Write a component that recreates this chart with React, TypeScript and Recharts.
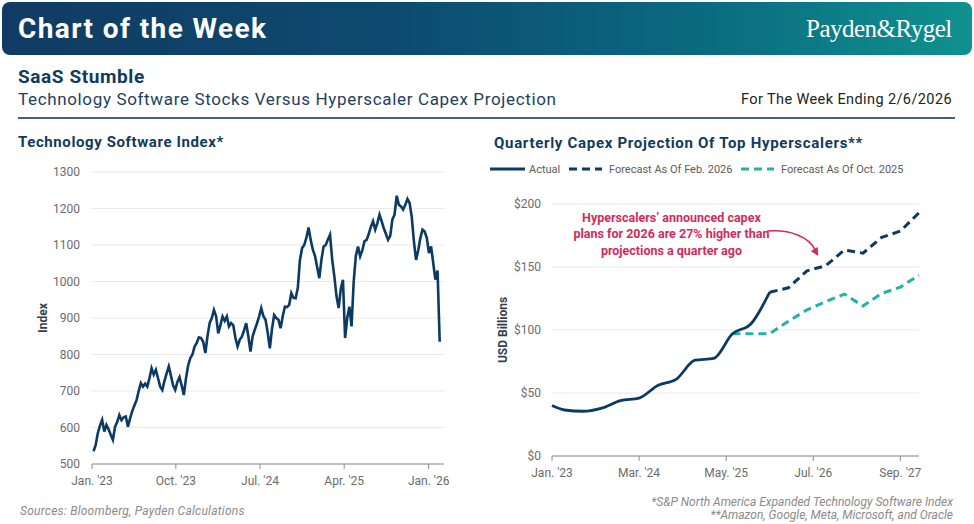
import { LineChart, Line, XAxis, YAxis, CartesianGrid, ReferenceDot } from "recharts"

const NAVY = "#0b3a64"
const TEAL = "#22b2a7"
const ROSE = "#d6295c"
const INK = "#123a5e"
const GRID = "#e9e9e9"
const AXIS = "#8c8c8c"
const TICK = "#6b6b6b"
const FONT = "Roboto, 'Noto Sans', Arial, sans-serif"

// Software index, weekly (Fridays) starting 2023-01-06
const indexStart = "2023-01-06"
const indexValues = [
  535, 552, 585, 605, 621, 589, 607, 595, 580, 566,
  602, 615, 634, 620, 628, 630, 602, 625, 645, 660,
  675, 700, 722, 712, 720, 712, 735, 762, 745, 758,
  735, 712, 703, 728, 748, 767, 742, 715, 703, 725,
  738, 715, 689, 735, 770, 790, 800, 822, 832, 847,
  845, 835, 804, 850, 886, 900, 922, 905, 858, 880,
  904, 892, 904, 877, 886, 880, 845, 822, 840, 849,
  866, 886, 850, 808, 850, 868, 885, 904, 927, 905,
  895, 860, 817, 870, 908, 900, 895, 872, 905, 931,
  930, 936, 968, 955, 954, 982, 1059, 1092, 1100, 1120,
  1148, 1114, 1087, 1070, 1040, 1009, 1060, 1096, 1100, 1115,
  1128, 1060, 1014, 960, 927, 980, 1005, 845, 900, 931,
  877, 1000, 1070, 1096, 1069, 1085, 1110, 1114, 1130, 1150,
  1165, 1142, 1160, 1183, 1165, 1146, 1130, 1114, 1125, 1170,
  1183, 1235, 1210, 1206, 1197, 1210, 1226, 1215, 1177, 1110,
  1059, 1085, 1119, 1142, 1137, 1120, 1078, 1096, 1050, 1005,
  1030, 835,
]
const indexTickDates = ["2023-01-01", "2023-10-01", "2024-07-01", "2025-04-01", "2026-01-01"]
const indexTickLabels = ["Jan. '23", "Oct. '23", "Jul. '24", "Apr. '25", "Jan. '26"]
const indexYTicks = [500, 600, 700, 800, 900, 1000, 1100, 1200, 1300]

// Quarterly capex of the top hyperscalers, USD billions
const capexQuarters = [
  "2023-01", "2023-03", "2023-06", "2023-09", "2023-12",
  "2024-03", "2024-06", "2024-09", "2024-12",
  "2025-03", "2025-06", "2025-09", "2025-12",
  "2026-03", "2026-06", "2026-09", "2026-12",
  "2027-03", "2027-06", "2027-09", "2027-12",
]
const capexActual = [40, 36.5, 35.5, 38, 44, 46, 56, 61, 76, 77.5, 97, 105, 130]
const capexFeb2026 = [130, 133.5, 147, 151, 163.5, 161, 173.5, 178.5, 193] // from 2025-12
const capexOct2025 = [97, 97, 97, 107, 116, 122.5, 128.5, 119, 129, 134, 143.5] // from 2025-06
const capexTickMonths = ["2023-01", "2024-03", "2025-05", "2026-07", "2027-09"]
const capexTickLabels = ["Jan. '23", "Mar. '24", "May. '25", "Jul. '26", "Sep. '27"]
const capexYTicks = [0, 50, 100, 150, 200]

const DAY = 86400000
const dayOf = (iso: string) => (Date.parse(iso) - Date.parse("2023-01-01")) / DAY
const monthOf = (ym: string) => {
  const [y, m] = ym.split("-").map(Number)
  return (y - 2023) * 12 + (m - 1)
}

const indexData = indexValues.map((value, i) => ({ day: dayOf(indexStart) + 7 * i, value }))
const indexTicks = indexTickDates.map(dayOf)

const feb26From = capexQuarters.indexOf("2025-12")
const oct25From = capexQuarters.indexOf("2025-06")
const capexData = capexQuarters.map((q, i) => ({
  month: monthOf(q),
  actual: i < capexActual.length ? capexActual[i] : null,
  feb2026: i >= feb26From ? capexFeb2026[i - feb26From] : null,
  oct2025: i >= oct25From ? capexOct2025[i - oct25From] : null,
}))
const capexTicks = capexTickMonths.map(monthOf)

const legendItems = [
  { label: "Actual", color: NAVY, dash: undefined as string | undefined, x: 490, width: 35, textX: 529 },
  { label: "Forecast As Of Feb. 2026", color: NAVY, dash: "8 5", x: 569, width: 33, textX: 609 },
  { label: "Forecast As Of Oct. 2025", color: TEAL, dash: "8 5", x: 741, width: 33, textX: 781 },
]

const annotationLines = [
  "Hyperscalers\u2019 announced capex",
  "plans for 2026 are 27% higher than",
  "projections a quarter ago",
]

const tickStyle = { fontSize: 12, fill: TICK, fontFamily: FONT }

function abs(left: number, top: number, extra: React.CSSProperties = {}): React.CSSProperties {
  return { position: "absolute", left, top, whiteSpace: "nowrap", lineHeight: 1, ...extra }
}

function AnnotationText({ cx, cy }: { cx?: number; cy?: number }) {
  if (cx == null || cy == null) return null
  return (
    <text x={cx} y={cy} textAnchor="middle" fill={ROSE} fontFamily={FONT} fontWeight={700} fontSize={12.5}>
      {annotationLines.map((line, i) => (
        <tspan key={i} x={cx} dy={i === 0 ? 4.5 : 16.4}>
          {line}
        </tspan>
      ))}
    </text>
  )
}

function AnnotationArrow({ cx, cy }: { cx?: number; cy?: number }) {
  if (cx == null || cy == null) return null
  return (
    <g transform={`translate(${cx},${cy})`}>
      <path d="M -51 -25 C -28 -27 -9 -19 -3 -6" fill="none" stroke={ROSE} strokeWidth={1.6} />
      <polygon points="0,0 -0.5,-9 -7.5,-5" fill={ROSE} />
    </g>
  )
}

export default function App() {
  return (
    <div style={{ position: "absolute", left: 0, top: 0, width: 974, height: 524, background: "#fff", fontFamily: FONT, overflow: "hidden" }}>
      {/* banner */}
      <div
        style={{
          position: "absolute", left: 2, top: 2, width: 970, height: 53, borderRadius: 8,
          background: "linear-gradient(90deg, #113b62 0%, #0d4a6f 40%, #0a6a80 72%, #0f918f 100%)",
        }}
      />
      <div style={abs(18, 15, { color: "#fff", fontSize: 28, fontWeight: 700, letterSpacing: 1.4 })}>Chart of the Week</div>
      <div style={abs(806, 16, { color: "#fff", fontSize: 25, fontFamily: "'Liberation Serif', 'DejaVu Serif', serif", letterSpacing: -0.5 })}>
        Payden&amp;Rygel
      </div>

      <div style={abs(18, 67, { color: INK, fontSize: 19, fontWeight: 700, letterSpacing: 0.6 })}>SaaS Stumble</div>
      <div style={abs(18, 91, { color: "#1d3f63", fontSize: 17, letterSpacing: 0.65 })}>
        Technology Software Stocks Versus Hyperscaler Capex Projection
      </div>
      <div style={{ ...abs(0, 93, { color: "#222", fontSize: 14.5, letterSpacing: 0.4 }), left: "auto", right: 22 }}>
        For The Week Ending 2/6/2026
      </div>
      <div style={{ position: "absolute", left: 18, top: 117, width: 937, height: 1.5, background: "#46607c" }} />

      {/* left panel */}
      <div style={abs(18, 135, { color: INK, fontSize: 15, fontWeight: 700, letterSpacing: 0.6 })}>Technology Software Index*</div>
      <div style={abs(43, 318, { color: "#333f4d", fontSize: 12, fontWeight: 700, transform: "translate(-50%, -50%) rotate(-90deg)" })}>
        Index
      </div>
      <div style={{ position: "absolute", left: 0, top: 150 }}>
        <LineChart width={460} height={350} data={indexData} margin={{ top: 22, right: 16, bottom: 6, left: 32 }}>
          <CartesianGrid horizontal vertical={false} stroke={GRID} />
          <XAxis
            dataKey="day"
            type="number"
            domain={[0, 1146]}
            ticks={indexTicks}
            allowDataOverflow
            tickFormatter={(v: number) => indexTickLabels[indexTicks.indexOf(v)] ?? ""}
            tick={tickStyle}
            tickSize={5}
            tickMargin={7}
            axisLine={{ stroke: AXIS }}
            tickLine={{ stroke: AXIS }}
          />
          <YAxis
            domain={[500, 1300]}
            ticks={indexYTicks}
            width={60}
            tick={tickStyle}
            tickSize={0}
            tickMargin={12}
            axisLine={false}
            tickLine={false}
          />
          <Line type="linear" dataKey="value" stroke={NAVY} strokeWidth={2.6} dot={false} isAnimationActive={false} />
        </LineChart>
      </div>

      {/* right panel */}
      <div style={abs(494, 136, { color: INK, fontSize: 15, fontWeight: 700, letterSpacing: 0.7 })}>Quarterly Capex Projection Of Top Hyperscalers**</div>
      {legendItems.map((it, i) => (
        <div key={i}>
          <svg width={it.width} height={14} style={{ position: "absolute", left: it.x, top: 162 }}>
            <line x1={0} y1={7} x2={it.width} y2={7} stroke={it.color} strokeWidth={3} strokeDasharray={it.dash} />
          </svg>
          <div style={abs(it.textX, 163.5, { fontSize: 11, color: "#5c5c5c" })}>{it.label}</div>
        </div>
      ))}
      <div style={abs(503, 330, { color: "#333f4d", fontSize: 12, fontWeight: 700, transform: "translate(-50%, -50%) rotate(-90deg)" })}>
        USD Billions
      </div>
      <div style={{ position: "absolute", left: 480, top: 150 }}>
        <LineChart width={450} height={350} data={capexData} margin={{ top: 54, right: 11, bottom: 14, left: 12 }}>
          <CartesianGrid horizontal vertical={false} stroke={GRID} />
          <XAxis
            dataKey="month"
            type="number"
            domain={[0, 59]}
            ticks={capexTicks}
            tickFormatter={(v: number) => capexTickLabels[capexTicks.indexOf(v)] ?? ""}
            tick={tickStyle}
            tickSize={5}
            tickMargin={7}
            axisLine={{ stroke: AXIS }}
            tickLine={{ stroke: AXIS }}
          />
          <YAxis
            domain={[0, 200]}
            ticks={capexYTicks}
            width={60}
            tick={tickStyle}
            tickSize={0}
            tickMargin={11}
            tickFormatter={(v: number) => `$${v}`}
            axisLine={false}
            tickLine={false}
          />
          <Line type="linear" dataKey="oct2025" stroke={TEAL} strokeWidth={3} strokeDasharray="8 5" dot={false} isAnimationActive={false} />
          <Line type="linear" dataKey="feb2026" stroke={NAVY} strokeWidth={3} strokeDasharray="8 5" dot={false} isAnimationActive={false} />
          <Line type="monotone" dataKey="actual" stroke={NAVY} strokeWidth={2.8} dot={false} isAnimationActive={false} />
          <ReferenceDot x={19.2} y={189.4} r={0} shape={(p: any) => <AnnotationText cx={p.cx} cy={p.cy} />} />
          <ReferenceDot x={42.8} y={158.7} r={0} shape={(p: any) => <AnnotationArrow cx={p.cx} cy={p.cy} />} />
        </LineChart>
      </div>

      {/* notes */}
      <div style={abs(20, 505, { color: "#8a8a8a", fontSize: 12, fontStyle: "italic", letterSpacing: 0.25 })}>Sources: Bloomberg, Payden Calculations</div>
      <div style={{ position: "absolute", right: 21, top: 496, textAlign: "right", color: "#8a8a8a", fontSize: 12, fontStyle: "italic", lineHeight: "13px" }}>
        <div>*S&amp;P North America Expanded Technology Software Index</div>
        <div>**Amazon, Google, Meta, Microsoft, and Oracle</div>
      </div>
    </div>
  )
}
